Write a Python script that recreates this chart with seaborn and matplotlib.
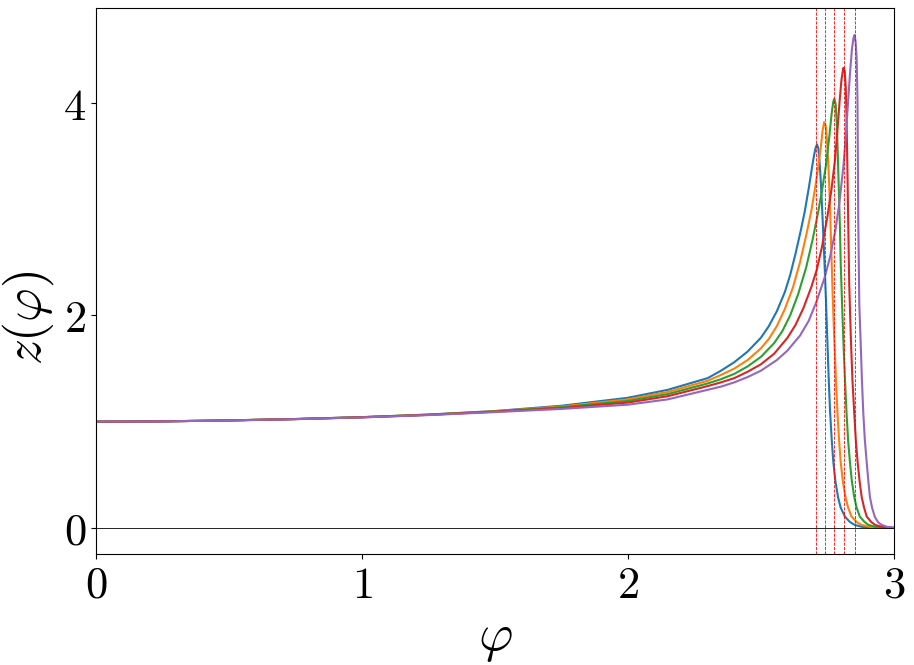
import matplotlib
matplotlib.use("Agg")
import matplotlib.pyplot as plt
import matplotlib.ticker as mticker
import seaborn as sns
import pandas as pd

# values
phi_base = [0.0, 0.25, 0.5, 0.75, 1.0, 1.25, 1.5, 1.75, 2.0, 2.15, 2.3, 2.35, 2.4, 2.45, 2.5]

phi_blue = phi_base + [2.53, 2.56, 2.59, 2.61, 2.63, 2.65, 2.665, 2.68, 2.692, 2.70, 2.706,
                       2.711, 2.716, 2.72, 2.725, 2.73, 2.735, 2.74, 2.745, 2.75, 2.755,
                       2.76, 2.766, 2.772, 2.78, 2.79, 2.80, 2.816, 2.835, 2.853, 2.88,
                       2.92, 3.0]
z_blue = [1.0, 1.003, 1.012, 1.025, 1.043, 1.067, 1.10, 1.15, 1.225, 1.30, 1.41, 1.48,
          1.56, 1.66, 1.79,
          1.90, 2.04, 2.22, 2.38, 2.58, 2.80, 2.98, 3.20, 3.39, 3.51, 3.58,
          3.61, 3.57, 3.47, 3.27, 3.02, 2.74, 2.44, 2.12, 1.75, 1.40,
          1.10, 0.84, 0.63, 0.44, 0.29, 0.19, 0.106, 0.055, 0.028, 0.010,
          0.003, 0.0]

phi_orange = phi_base + [2.53, 2.56, 2.59, 2.62, 2.647, 2.67, 2.69, 2.705, 2.716, 2.725,
                         2.732, 2.738, 2.744, 2.749, 2.753, 2.757, 2.761, 2.765, 2.77,
                         2.776, 2.782, 2.788, 2.794, 2.80, 2.808, 2.818, 2.828, 2.84,
                         2.86, 2.879, 2.91, 2.95, 3.0]
z_orange = [1.0, 1.003, 1.012, 1.025, 1.042, 1.066, 1.098, 1.143, 1.21, 1.28, 1.385, 1.44,
            1.50, 1.58, 1.69,
            1.78, 1.90, 2.06, 2.26, 2.50, 2.75, 2.99, 3.22, 3.41, 3.58,
            3.74, 3.82, 3.78, 3.63, 3.45, 3.22, 2.92, 2.58, 2.18,
            1.77, 1.40, 1.08, 0.82, 0.62, 0.44, 0.29, 0.19, 0.11,
            0.055, 0.028, 0.010, 0.003, 0.0]

phi_green = phi_base + [2.55, 2.58, 2.61, 2.64, 2.67, 2.695, 2.715, 2.73, 2.745, 2.757,
                        2.766, 2.772, 2.776, 2.781, 2.785, 2.789, 2.793, 2.797, 2.80,
                        2.805, 2.81, 2.816, 2.822, 2.828, 2.835, 2.842, 2.851, 2.86,
                        2.872, 2.89, 2.905, 2.93, 2.97, 3.0]
z_green = [1.0, 1.003, 1.012, 1.025, 1.042, 1.065, 1.096, 1.136, 1.195, 1.26, 1.36, 1.40,
           1.45, 1.52, 1.61,
           1.74, 1.85, 2.00, 2.20, 2.45, 2.72, 2.97, 3.18, 3.42, 3.68,
           3.90, 4.01, 4.04, 3.99, 3.82, 3.52, 3.18, 2.84, 2.50,
           2.12, 1.77, 1.40, 1.08, 0.82, 0.61, 0.44, 0.29, 0.19,
           0.106, 0.055, 0.028, 0.010, 0.003, 0.0]

phi_red = phi_base + [2.55, 2.6, 2.63, 2.66, 2.69, 2.71, 2.73, 2.75, 2.765, 2.778, 2.788,
                      2.796, 2.803, 2.81, 2.815, 2.819, 2.822, 2.825, 2.828, 2.832, 2.838,
                      2.844, 2.851, 2.857, 2.864, 2.871, 2.879, 2.888, 2.898, 2.915,
                      2.93, 2.955, 2.98, 3.0]
z_red = [1.0, 1.003, 1.012, 1.024, 1.041, 1.064, 1.094, 1.128, 1.18, 1.24, 1.335, 1.37,
         1.41, 1.47, 1.54,
         1.64, 1.79, 1.91, 2.07, 2.27, 2.43, 2.65, 2.93, 3.18, 3.45, 3.75,
         4.02, 4.22, 4.33, 4.30, 4.15, 3.85, 3.42, 2.92, 2.30, 1.80,
         1.40, 1.08, 0.82, 0.61, 0.44, 0.29, 0.19, 0.106, 0.055,
         0.028, 0.010, 0.003, 0.0]

phi_purple = phi_base + [2.56, 2.6, 2.647, 2.68, 2.709, 2.74, 2.76, 2.78, 2.795, 2.81, 2.82,
                         2.828, 2.835, 2.842, 2.848, 2.852, 2.856, 2.86, 2.863, 2.866, 2.870,
                         2.875, 2.88, 2.885, 2.891, 2.898, 2.904, 2.91, 2.918, 2.928, 2.94,
                         2.954, 2.975, 3.0]
z_purple = [1.0, 1.003, 1.011, 1.024, 1.040, 1.062, 1.09, 1.12, 1.16, 1.21, 1.30, 1.33,
            1.37, 1.42, 1.48,
            1.58, 1.67, 1.81, 1.95, 2.13, 2.36, 2.55, 2.80, 3.06, 3.40, 3.72,
            4.02, 4.28, 4.50, 4.61, 4.64, 4.58, 4.42, 4.05, 2.90, 2.10,
            1.75, 1.38, 1.08, 0.82, 0.61, 0.44, 0.29, 0.19, 0.106, 0.055,
            0.028, 0.010, 0.002]

peak_phi = [2.708, 2.742, 2.776, 2.813, 2.854]

curves = {
    "c1": (phi_blue, z_blue),
    "c2": (phi_orange, z_orange),
    "c3": (phi_green, z_green),
    "c4": (phi_red, z_red),
    "c5": (phi_purple, z_purple),
}
frames = []
for name, (xs, ys) in curves.items():
    frames.append(pd.DataFrame({"phi": xs, "z": ys, "curve": name}))
df = pd.concat(frames, ignore_index=True)

plt.rcParams["mathtext.fontset"] = "cm"

fig = plt.figure(figsize=(9.14, 6.65), dpi=100)
ax = fig.add_axes([0.105, 0.167, 0.873, 0.821])

sns.lineplot(data=df, x="phi", y="z", hue="curve", palette=sns.color_palette("tab10", 5),
             sort=False, estimator=None, linewidth=1.5, legend=False, ax=ax)

ax.axhline(0, color="black", linewidth=0.6)
for p in peak_phi:
    ax.axvline(p, color="red", linestyle="--", linewidth=0.6)

ax.set_xlim(0, 3)
ax.set_ylim(-0.245, 4.894)
ax.set_xticks([0, 1, 2, 3])
ax.set_yticks([0, 2, 4])
fmt = mticker.FuncFormatter(lambda v, pos: f"${v:g}$")
ax.xaxis.set_major_formatter(fmt)
ax.yaxis.set_major_formatter(fmt)
ax.tick_params(labelsize=32)
ax.set_xlabel(r"$\varphi$", fontsize=38)
ax.set_ylabel(r"$z(\varphi)$", fontsize=37)
ax.yaxis.set_label_coords(-0.05, 0.432)

fig.savefig("out.png", dpi=100)
